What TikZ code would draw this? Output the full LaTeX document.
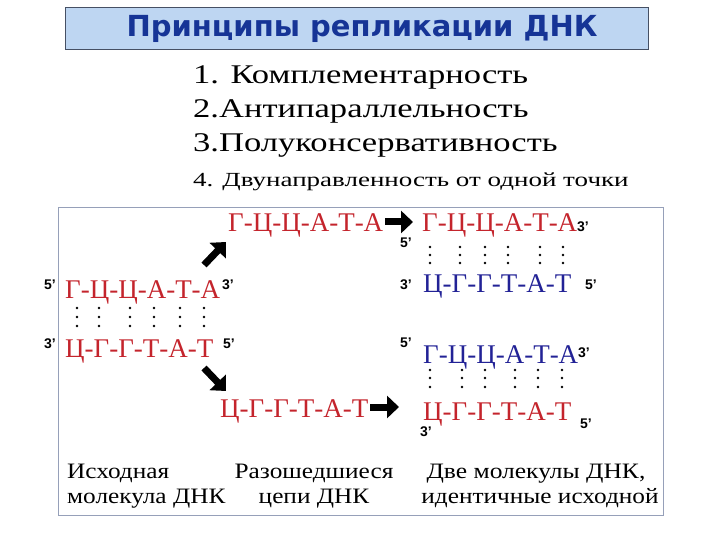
\documentclass[tikz,border=0pt]{standalone}
\usepackage{graphicx}
\usepackage{fontspec}
\setmainfont{Liberation Serif}
\newfontfamily\primefont{Liberation Sans}
\newfontfamily\titlefont{DejaVu Sans}
\usetikzlibrary{arrows.meta}
\newcommand\hstretch[2]{\scalebox{#1}[1]{#2}}
\definecolor{strandred}{RGB}{196,36,44}
\definecolor{strandblue}{RGB}{34,34,150}
\definecolor{titleblue}{RGB}{22,52,150}
\definecolor{titlefill}{RGB}{190,214,242}
\definecolor{titleborder}{RGB}{70,80,100}
\definecolor{boxborder}{RGB}{150,160,185}
\tikzset{
 strand/.style={anchor=base west, inner sep=0pt, font=\fontsize{27}{27}\selectfont},
 redstrand/.style={strand, text=strandred},
 bluestrand/.style={strand, text=strandblue},
 prime/.style={inner sep=0pt, font=\primefont\bfseries\fontsize{14}{14}\selectfont},
 item/.style={anchor=base west, inner sep=0pt, font=\fontsize{27}{27}\selectfont},
 smallitem/.style={anchor=base west, inner sep=0pt, font=\fontsize{20}{20}\selectfont},
 caption/.style={anchor=base, inner sep=0pt, font=\fontsize{22}{22}\selectfont},
 bigarrow/.style={line width=7pt, -{Triangle[length=12pt 0, width=22pt 0]}},
 hdot/.style={fill=black},
}
\begin{document}
\begin{tikzpicture}[x=1pt,y=-1pt]
\useasboundingbox (0,0) rectangle (720,540);
\fill[white] (0,0) rectangle (720,540);
% title
\node[draw=titleborder, fill=titlefill, line width=1pt, minimum width=583pt, minimum height=42pt, inner sep=0pt] (titlebox) at (356.5,29) {};
\node[inner sep=0pt, text=titleblue, font=\titlefont\bfseries\fontsize{29}{29}\selectfont] (title) at (362,29) {Принципы репликации ДНК};
% items
\node[item] (i1) at (193,84) {\hstretch{1.28}{1. Комплементарность}};
\node[item] (i2) at (193,118) {\hstretch{1.28}{2.Антипараллельность}};
\node[item] (i3) at (193,152) {\hstretch{1.28}{3.Полуконсервативность}};
\node[smallitem] (i4) at (193,187) {\hstretch{1.35}{4. Двунаправленность от одной точки}};
% main box
\draw[boxborder, line width=1pt] (58,208) rectangle (663,515);
% strands
\node[redstrand] (L1) at (65,298) {Г-Ц-Ц-А-Т-А};
\node[redstrand] (L2) at (65,357) {Ц-Г-Г-Т-А-Т};
\node[redstrand] (M1) at (228,232) {Г-Ц-Ц-А-Т-А};
\node[redstrand] (M2) at (220,417) {Ц-Г-Г-Т-А-Т};
\node[redstrand] (R1) at (422,232) {Г-Ц-Ц-А-Т-А};
\node[bluestrand] (R2) at (423,292) {Ц-Г-Г-Т-А-Т};
\node[bluestrand] (R3) at (423,363) {Г-Ц-Ц-А-Т-А};
\node[redstrand] (R4) at (423,420) {Ц-Г-Г-Т-А-Т};
% primes
\node[prime] (pL1a) at (50,285) {5’};
\node[prime] (pL1b) at (228,285) {3’};
\node[prime] (pL2a) at (50,344) {3’};
\node[prime] (pL2b) at (229,344) {5’};
\node[prime] (pR1b) at (583,227) {3’};
\node[prime] (pR1a) at (406,243) {5’};
\node[prime] (pR2a) at (406,285) {3’};
\node[prime] (pR2b) at (591,285) {5’};
\node[prime] (pR3a) at (406,343) {5’};
\node[prime] (pR3b) at (584,353) {3’};
\node[prime] (pR4a) at (426,432) {3’};
\node[prime] (pR4b) at (586,424) {5’};
% hydrogen bond dots
\foreach \x in {77,99,130,154,180,204}
  \foreach \y in {308,317,326} \fill[hdot] (\x,\y) circle (1.3pt);
\foreach \x in {430,460,485,508,540,563}
  \foreach \y in {247,255,263} \fill[hdot] (\x,\y) circle (1.3pt);
\foreach \x in {430,462,485,515,538,562}
  \foreach \y in {370,378,387} \fill[hdot] (\x,\y) circle (1.3pt);
% arrows
\coordinate (a1s) at (204,265);
\coordinate (a1e) at (226,242);
\coordinate (a2s) at (204,368);
\coordinate (a2e) at (226,391);
\coordinate (a3s) at (385,222);
\coordinate (a3e) at (413,222);
\coordinate (a4s) at (370,407);
\coordinate (a4e) at (399,407);
\draw[bigarrow] (a1s) -- (a1e);
\draw[bigarrow] (a2s) -- (a2e);
\draw[bigarrow] (a3s) -- (a3e);
\draw[bigarrow] (a4s) -- (a4e);
% captions
\node[caption, anchor=base west] (c1a) at (67,478) {\hstretch{1.15}{Исходная}};
\node[caption, anchor=base west] (c1b) at (67,503) {\hstretch{1.15}{молекула ДНК}};
\node[caption] (c2a) at (314,478) {\hstretch{1.15}{Разошедшиеся}};
\node[caption] (c2b) at (314,503) {\hstretch{1.15}{цепи ДНК}};
\node[caption] (c3a) at (536,478) {\hstretch{1.16}{Две молекулы ДНК,}};
\node[caption] (c3b) at (540,503) {\hstretch{1.15}{идентичные исходной}};
\end{tikzpicture}
\end{document}
